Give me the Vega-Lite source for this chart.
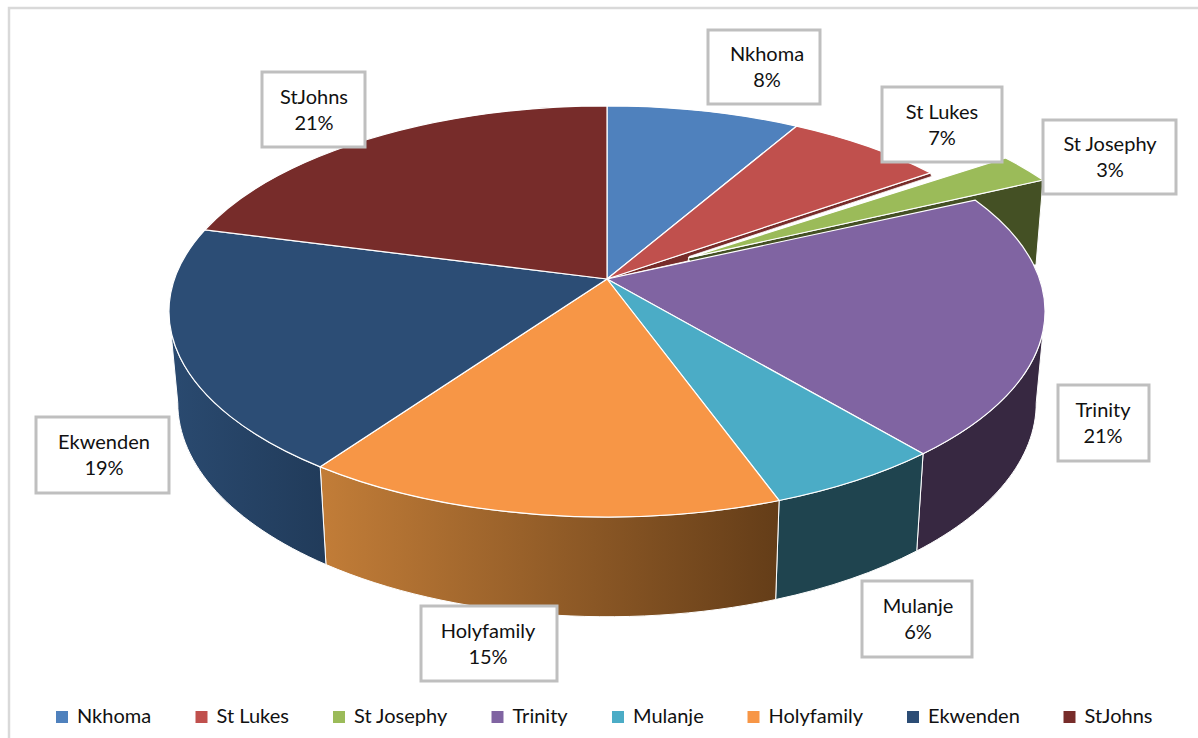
{
"$schema":"https://vega.github.io/schema/vega-lite/v6.json",
"width":1198,"height":738,"autosize":{"type":"none"},"padding":0,"background":"white",
"config":{"view":{"stroke":null},"font":"Lato"},
"data":{"values":[
{"name":"Nkhoma","share":8.3},
{"name":"St Lukes","share":6.9},
{"name":"St Josephy","share":2.9},
{"name":"Trinity","share":20.8},
{"name":"Mulanje","share":5.6},
{"name":"Holyfamily","share":15.3},
{"name":"Ekwenden","share":19.3},
{"name":"StJohns","share":20.9}
]},
"transform":[
{"window":[{"op":"sum","field":"share","as":"c1"}],"frame":[null,0]},
{"calculate":"datum.c1-datum.share","as":"c0"},
{"calculate":"datum.c0*PI/50","as":"a0"},
{"calculate":"datum.c1*PI/50","as":"a1"},
{"calculate":"round(100*(8+432.5*sin(datum.a0)/(1+0.158*cos(datum.a0))))/100","as":"x0"},
{"calculate":"round(100*(-90-200.4*cos(datum.a0)/(1+0.158*cos(datum.a0))))/100","as":"y0"},
{"calculate":"round(100*(8+432.5*sin(datum.a1)/(1+0.158*cos(datum.a1))))/100","as":"x1"},
{"calculate":"round(100*(-90-200.4*cos(datum.a1)/(1+0.158*cos(datum.a1))))/100","as":"y1"},
{"calculate":"datum.name=='St Josephy'?'M89,-111L'+(datum.x0+75)+','+(datum.y0-15)+'A438,205.5 0 0 1 '+(datum.x1+68)+','+(datum.y1-20)+'Z':'M8,-90L'+datum.x0+','+datum.y0+'A438,205.5 0 0 1 '+datum.x1+','+datum.y1+'Z'","as":"top"},
{"calculate":"max(datum.c0,27.5)*PI/50","as":"w0"},
{"calculate":"min(datum.c1,72.5)*PI/50","as":"w1"},
{"calculate":"round(100*432.5*sin(datum.w0)/(1+0.158*cos(datum.w0)))/100","as":"u0"},
{"calculate":"round(-100*200.4*cos(datum.w0)/(1+0.158*cos(datum.w0)))/100","as":"v0"},
{"calculate":"round(100*432.5*sin(datum.w1)/(1+0.158*cos(datum.w1)))/100","as":"u1"},
{"calculate":"round(-100*200.4*cos(datum.w1)/(1+0.158*cos(datum.w1)))/100","as":"v1"},
{"calculate":"'M'+(8+datum.u0)+','+(-90+datum.v0)+'A438,205.5 0 0 1 '+(8+datum.u1)+','+(-90+datum.v1)+'L'+(8+0.98*datum.u1)+','+(34+1.04*(datum.v1-32.5))+'A429.2,213.7 0 0 0 '+(8+0.98*datum.u0)+','+(34+1.04*(datum.v0-32.5))+'Z'","as":"wall"},
{"calculate":"{'Nkhoma':[708,30,820,104,767],'St Lukes':[882,87,1002,162,942],'St Josephy':[1043,120,1176,194,1110],'Trinity':[1058,385,1149,461,1103],'Mulanje':[862,581,972,657,918],'Holyfamily':[421,606,557,681,488],'Ekwenden':[36,417,169,493,104],'StJohns':[262,72,365,147,314]}[datum.name]","as":"box"},
{"calculate":"'M'+(datum.box[0]-599)+','+(datum.box[1]-369)+'H'+(datum.box[2]-599)+'V'+(datum.box[3]-369)+'H'+(datum.box[0]-599)+'Z'","as":"boxPath"},
{"calculate":"datum.box[4]","as":"lx"},
{"calculate":"(datum.box[1]+datum.box[3])/2-12","as":"ly"},
{"calculate":"datum.name+'\\n'+format(datum.share,'.0f')+'%'","as":"label"}
],
"layer":[
{"transform":[{"filter":"datum.name=='Nkhoma'"}],
 "mark":{"type":"point","filled":false,"fill":"transparent","stroke":"#d9d9d9","strokeWidth":2.5,"opacity":1,"size":4,"shape":"M-590,369V-361H599"}},
{"transform":[{"filter":"datum.name=='St Josephy'"},{"calculate":"'M89,-111L'+(datum.x1+68)+','+(datum.y1-20)+'L437,-104L91,-107Z'","as":"face"}],
 "mark":{"type":"point","filled":true,"fill":"#445024","stroke":"white","strokeWidth":1,"opacity":1,"size":4},
 "encoding":{"shape":{"field":"face","scale":null}}},
{"transform":[{"filter":"datum.name=='St Lukes'"},{"calculate":"'M8,-90L'+datum.x1+','+datum.y1+'L'+(datum.x1+1)+','+(datum.y1+3.5)+'L90,-112.5L89,-108Z'","as":"face"}],
 "mark":{"type":"point","filled":true,"fill":"#772c2a","stroke":"white","strokeWidth":0.8,"opacity":1,"size":4},
 "encoding":{"shape":{"field":"face","scale":null}}},
{"transform":[{"filter":"datum.name=='Trinity'"}],
 "mark":{"type":"point","filled":true,"fill":"#372841","stroke":"white","strokeWidth":1,"opacity":1,"size":4},
 "encoding":{"shape":{"field":"wall","scale":null}}},
{"transform":[{"filter":"datum.name=='Mulanje'"}],
 "mark":{"type":"point","filled":true,"fill":"#1f444f","stroke":"white","strokeWidth":1,"opacity":1,"size":4},
 "encoding":{"shape":{"field":"wall","scale":null}}},
{"transform":[{"filter":"datum.name=='Holyfamily'"}],
 "mark":{"type":"point","filled":true,"fill":{"gradient":"linear","x1":0,"y1":0,"x2":1,"y2":0,"stops":[{"offset":0,"color":"#c27d38"},{"offset":1,"color":"#643d18"}]},"stroke":"white","strokeWidth":1,"opacity":1,"size":4},
 "encoding":{"shape":{"field":"wall","scale":null}}},
{"transform":[{"filter":"datum.name=='Ekwenden'"}],
 "mark":{"type":"point","filled":true,"fill":{"gradient":"linear","x1":0,"y1":0,"x2":1,"y2":0,"stops":[{"offset":0,"color":"#2a4a70"},{"offset":1,"color":"#213b5a"}]},"stroke":"white","strokeWidth":1,"opacity":1,"size":4},
 "encoding":{"shape":{"field":"wall","scale":null}}},
{"mark":{"type":"point","filled":true,"stroke":"white","strokeWidth":1.2,"opacity":1,"size":4},
 "encoding":{
  "shape":{"field":"top","scale":null},
  "color":{"field":"name","type":"nominal",
   "scale":{"domain":["Nkhoma","St Lukes","St Josephy","Trinity","Mulanje","Holyfamily","Ekwenden","StJohns"],"range":["#4f81bd","#c0504d","#9bbb59","#8064a2","#4bacc6","#f79646","#2c4d75","#772c2a"]},
   "legend":{"title":null,"orient":"none","legendX":52,"legendY":707,"direction":"horizontal","columns":8,"columnPadding":39.5,"symbolType":"square","symbolSize":144,"symbolStrokeWidth":0,"symbolOpacity":1,"labelFont":"Lato","labelFontSize":20,"labelColor":"#111111","labelOffset":5}}}},
{"mark":{"type":"point","filled":true,"fill":"white","stroke":"#bfbfbf","strokeWidth":3,"opacity":1,"size":4},
 "encoding":{"shape":{"field":"boxPath","scale":null}}},
{"mark":{"type":"text","font":"Lato","fontSize":20,"color":"#111111","lineBreak":"\n","lineHeight":26,"align":"center","baseline":"middle"},
 "encoding":{
  "x":{"field":"lx","type":"quantitative","scale":null,"axis":null},
  "y":{"field":"ly","type":"quantitative","scale":null,"axis":null},
  "text":{"field":"label"}}}
]
}
